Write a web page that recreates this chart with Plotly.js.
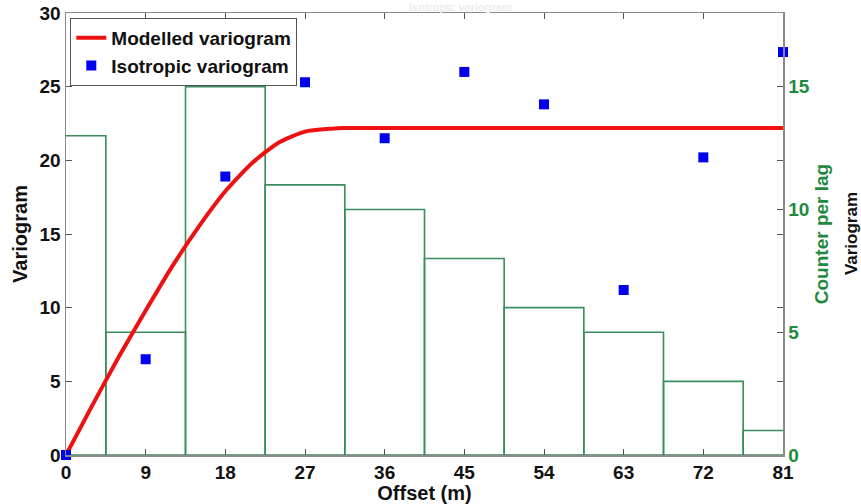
<!DOCTYPE html>
<html>
<head>
<meta charset="utf-8">
<script src="https://cdn.plot.ly/plotly-3.0.1.min.js"></script>
<style>
  html, body { margin: 0; padding: 0; background: #ffffff; }
  #chart { width: 861px; height: 504px; }
</style>
</head>
<body>
<div id="chart"></div>
<script>
// Lag centres (m) and number of pairs per lag
const lagCentres = [0, 9, 18, 27, 36, 45, 54, 63, 72, 81];
const pairCounts = [13, 5, 15, 11, 10, 8, 6, 5, 3, 1];

// Experimental (isotropic) variogram values at each lag
const expOffset = [0, 9, 18, 27, 36, 45, 54, 63, 72, 81];
const expGamma = [0, 6.5, 18.9, 25.3, 21.5, 26.0, 23.8, 11.2, 20.2, 27.35];

// Fitted model curve, read along the offset axis
const modelOffset = [0, 3, 6, 9, 12, 15, 18, 21, 24, 27, 30, 31.5, 81];
const modelGamma = [0, 3.4, 6.7, 9.8, 12.8, 15.5, 17.9, 19.8, 21.2, 21.95, 22.15, 22.2, 22.2];

const xTicks = [0, 9, 18, 27, 36, 45, 54, 63, 72, 81];

const FONT = 'Liberation Sans, Arial, sans-serif';
const GREEN_LINE = '#3a8d5c';
const GREEN_TEXT = '#1f8a3e';
const AXIS_GREY = '#8a8a8a';

const traces = [
  {
    type: 'bar',
    x: lagCentres,
    y: pairCounts,
    width: 9,
    xaxis: 'x',
    yaxis: 'y',
    marker: { color: 'rgba(0,0,0,0)', line: { color: GREEN_LINE, width: 1.6 } },
    showlegend: false,
    hoverinfo: 'x+y'
  },
  {
    type: 'scatter',
    mode: 'lines',
    name: 'Modelled variogram',
    x: modelOffset,
    y: modelGamma,
    xaxis: 'x',
    yaxis: 'y2',
    line: { color: '#ee1111', width: 4, shape: 'spline', smoothing: 0.6 }
  },
  {
    type: 'scatter',
    mode: 'markers',
    name: 'Isotropic variogram',
    x: expOffset,
    y: expGamma,
    xaxis: 'x',
    yaxis: 'y2',
    cliponaxis: false,
    marker: { symbol: 'square', size: 10, color: '#0000f0', line: { width: 0 } }
  }
];

const layout = {
  width: 861,
  height: 504,
  margin: { l: 66, r: 78, t: 13, b: 49 },
  paper_bgcolor: '#ffffff',
  plot_bgcolor: '#ffffff',
  font: { family: FONT, size: 19, color: '#111111', weight: 'bold' },
  barmode: 'overlay',
  showlegend: true,
  legend: {
    x: 0.006, y: 0.989, xanchor: 'left', yanchor: 'top',
    bgcolor: '#ffffff', bordercolor: '#555555', borderwidth: 1,
    font: { family: FONT, size: 19, color: '#111111', weight: 'bold' },
    tracegroupgap: 0,
    itemwidth: 30
  },
  xaxis: {
    range: [0, 81],
    tickmode: 'array',
    tickvals: xTicks,
    ticktext: xTicks.map(String),
    ticks: 'inside',
    ticklen: 6,
    tickcolor: '#555555',
    showline: true,
    linecolor: AXIS_GREY,
    linewidth: 1.5,
    mirror: 'ticks',
    showgrid: false,
    zeroline: false,
    tickfont: { family: FONT, size: 19, color: '#111111', weight: 'bold' },
    title: { text: 'Offset (m)', standoff: 6, font: { family: FONT, size: 20, color: '#111111', weight: 'bold' } }
  },
  yaxis: {
    side: 'right',
    range: [0, 18],
    tickmode: 'array',
    tickvals: [0, 5, 10, 15],
    ticks: 'inside',
    ticklen: 6,
    tickcolor: '#555555',
    showline: true,
    linecolor: AXIS_GREY,
    linewidth: 1.5,
    showgrid: false,
    zeroline: false,
    tickfont: { family: FONT, size: 19, color: GREEN_TEXT, weight: 'bold' },
    title: { text: 'Counter per lag', standoff: 6, font: { family: FONT, size: 19, color: GREEN_TEXT, weight: 'bold' } }
  },
  yaxis2: {
    overlaying: 'y',
    side: 'left',
    range: [0, 30],
    dtick: 5,
    ticks: 'inside',
    ticklen: 6,
    tickcolor: '#555555',
    showline: true,
    linecolor: AXIS_GREY,
    linewidth: 1.5,
    mirror: 'ticks',
    showgrid: false,
    zeroline: false,
    tickfont: { family: FONT, size: 19, color: '#111111', weight: 'bold' },
    title: { text: 'Variogram', standoff: 6, font: { family: FONT, size: 20, color: '#111111', weight: 'bold' } }
  },
  annotations: [
    {
      text: 'Variogram',
      xref: 'paper', yref: 'paper',
      x: 1.095, y: 0.5, xanchor: 'center', yanchor: 'middle',
      textangle: -90, showarrow: false,
      font: { family: FONT, size: 17, color: '#111111', weight: 'bold' }
    },
    {
      text: 'Isotropic variogram',
      xref: 'paper', yref: 'paper',
      x: 0.55, y: 1.0, xanchor: 'center', yanchor: 'top', yshift: 13,
      borderpad: 0,
      showarrow: false,
      font: { family: FONT, size: 11, color: '#ededed', weight: 'bold' }
    }
  ]
};

Plotly.newPlot('chart', traces, layout, { displayModeBar: false, staticPlot: true });
</script>
</body>
</html>
